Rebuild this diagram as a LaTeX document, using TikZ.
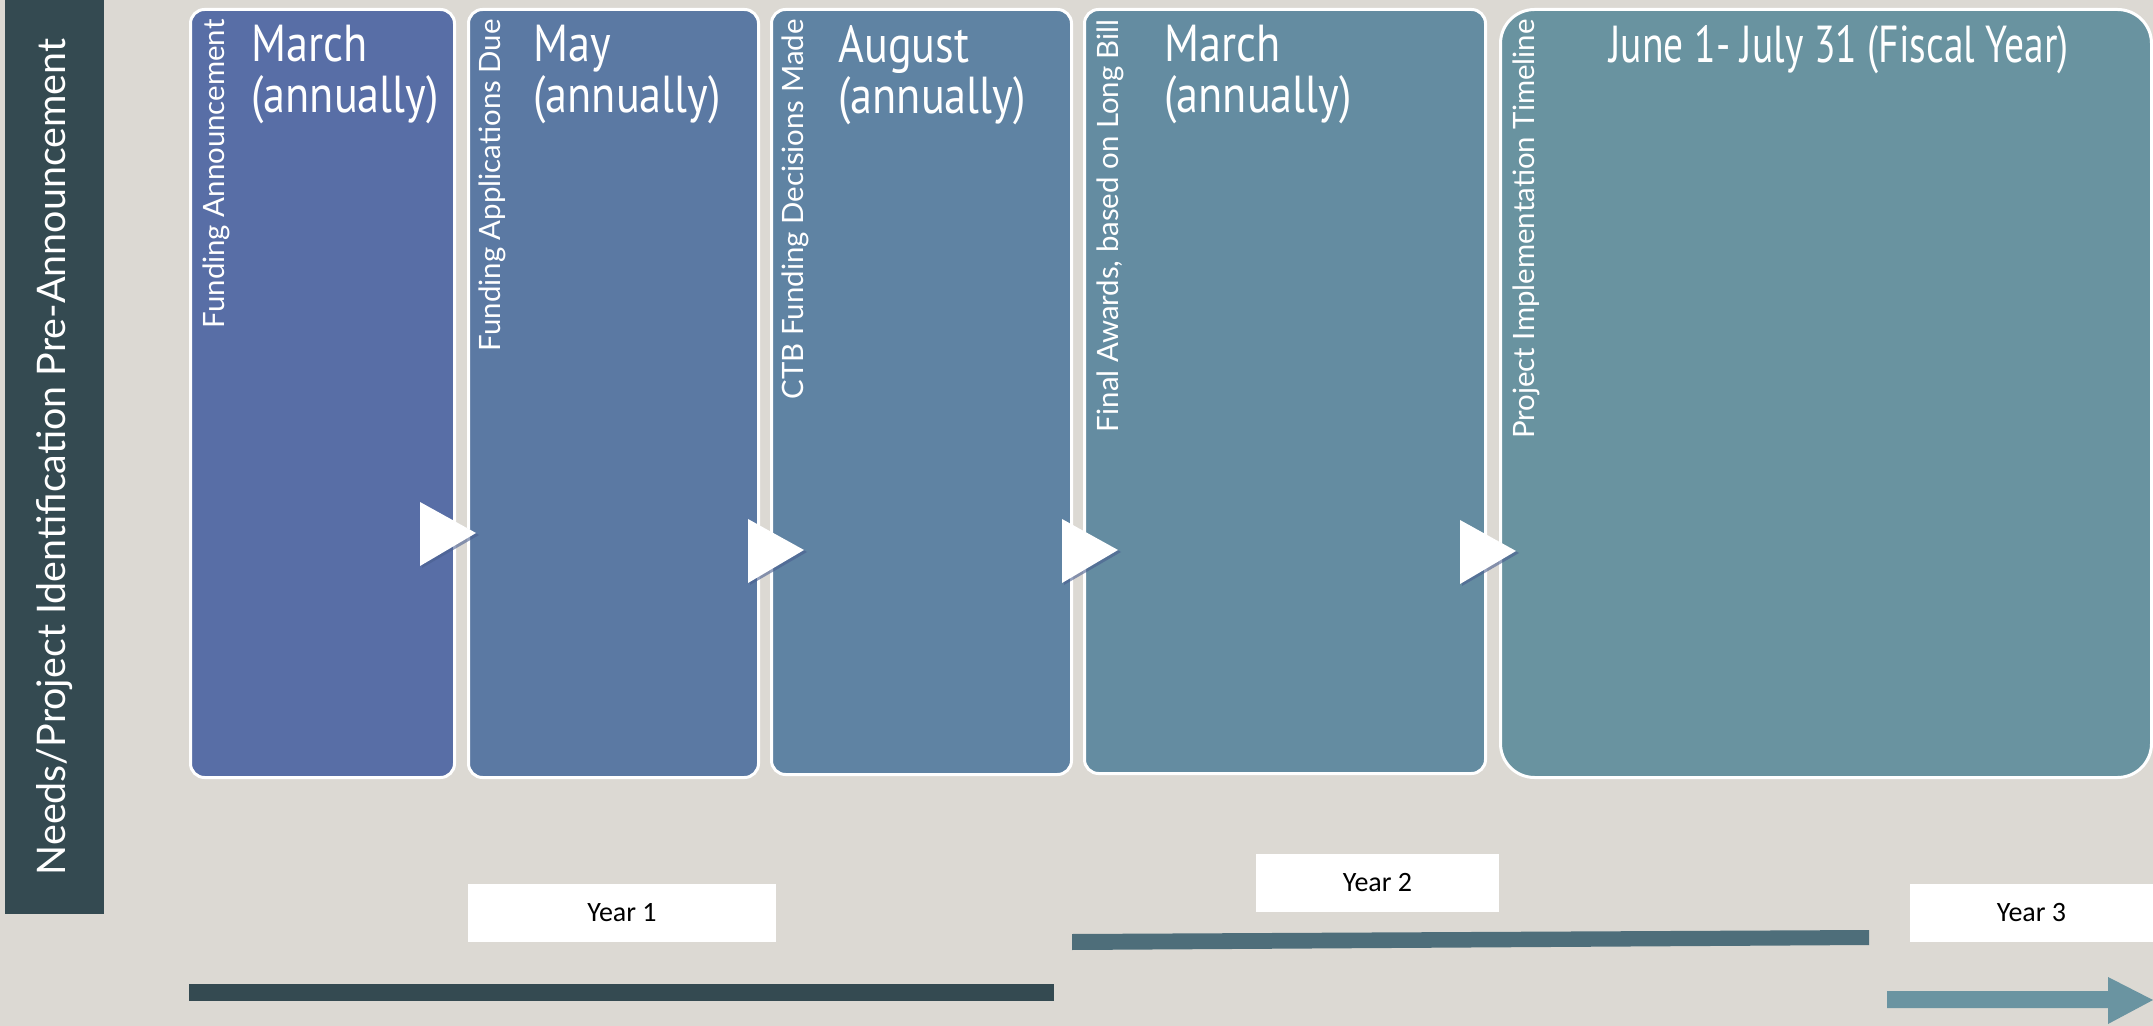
\documentclass[tikz,border=0pt]{standalone}
\usepackage{fontspec}
\setmainfont{Lato}
\newfontfamily\titlefont[FakeStretch=0.85]{PT Sans}
\newfontfamily\narrowtitlefont[FakeStretch=0.76]{PT Sans}
\newfontfamily\yearfont{Carlito}
\newfontfamily\labelfont{Lato}
\definecolor{bg}{HTML}{DCD9D3}
\definecolor{side}{HTML}{344A51}
\definecolor{cA}{HTML}{586EA6}
\definecolor{cB}{HTML}{5B79A3}
\definecolor{cC}{HTML}{5F83A3}
\definecolor{cD}{HTML}{648CA1}
\definecolor{cE}{HTML}{6993A0}
\definecolor{barB}{HTML}{4E6E7A}
\definecolor{barC}{HTML}{6A94A1}
\definecolor{trishadow}{HTML}{4A5F90}
\tikzset{
  stagebox/.style={draw=white, line width=1.5pt, rounded corners=7pt, anchor=north west, minimum height=384pt, inner sep=0pt},
  vlab/.style={rotate=90, anchor=north east, inner sep=0pt, text=white, font=\labelfont\fontsize{14.7}{16}\selectfont},
  ttl/.style={anchor=north west, inner sep=0pt, align=left, text=white, font=\titlefont\fontsize{26}{25.5}\selectfont},
  yearbox/.style={fill=white, inner sep=0pt, minimum height=29pt, font=\yearfont\fontsize{14}{16}\selectfont},
  tri/.pic={
    \fill[trishadow, opacity=0.6] (-54,-29) -- (3,2) -- (-54,35) -- cycle;
    \fill[white] (-56,-31) -- (0,0) -- (-56,33) -- cycle;
  }
}
\begin{document}
\begin{tikzpicture}[x=0.5pt,y=-0.5pt]
\useasboundingbox (0,0) rectangle (2153,1026);
\fill[bg] (0,0) rectangle (2153,1026);

% side bar
\node[fill=side, rotate=90, minimum width=457pt, minimum height=49.5pt, inner sep=0pt, text=white, font=\labelfont\fontsize{19.7}{21}\selectfont] (side) at (54.5,457) {Needs/Project Identification Pre-Announcement};

% stage boxes
\node[stagebox, fill=cA, minimum width=132pt] (b1) at (189,8) {};
\node[stagebox, fill=cB, minimum width=145pt] (b2) at (467,8) {};
\node[stagebox, fill=cC, minimum width=150pt, minimum height=382.5pt] (b3) at (770,8) {};
\node[stagebox, fill=cD, minimum width=200.5pt, minimum height=382pt] (b4) at (1083,8) {};
\node[stagebox, fill=cE, minimum width=325.5pt, rounded corners=17pt] (b5) at (1499,8) {};

% vertical labels
\node[vlab] (l1) at (202,19) {Funding Announcement};
\node[vlab] (l2) at (478,19) {Funding Applications Due};
\node[vlab] (l3) at (781,19) {CTB Funding Decisions Made};
\node[vlab] (l4) at (1096,19) {Final Awards, based on Long Bill};
\node[vlab] (l5) at (1512,19) {Project Implementation Timeline};

% titles
\node[ttl] (t1) at (251,25) {March\\(annually)};
\node[ttl] (t2) at (533,25) {May\\(annually)};
\node[ttl] (t3) at (838,25) {August\\(annually)};
\node[ttl] (t4) at (1164,25) {March\\(annually)};
\node[ttl, font=\narrowtitlefont\fontsize{26}{25.5}\selectfont] (t5) at (1609,25) {June 1- July 31 (Fiscal Year)};

% triangles
\coordinate (a1) at (476,533);
\coordinate (a2) at (804,550);
\coordinate (a3) at (1118,550);
\coordinate (a4) at (1516,551);
\pic at (a1) {tri};
\pic at (a2) {tri};
\pic at (a3) {tri};
\pic at (a4) {tri};

% year labels
\node[yearbox, minimum width=154pt] (y1) at (622,913) {Year 1};
\node[yearbox, minimum width=121.5pt] (y2) at (1377.5,883) {Year 2};
\node[yearbox, minimum width=121.5pt] (y3) at (2031.5,913) {Year 3};

% timeline bars
\fill[side] (189,984) rectangle (1054,1001);
\fill[barB] (1072,934) -- (1869,930) -- (1869,945) -- (1072,950) -- cycle;
\fill[barC] (1887,991) -- (2108,991) -- (2108,977) -- (2153,1000) -- (2108,1024) -- (2108,1008) -- (1887,1008) -- cycle;
\end{tikzpicture}
\end{document}
